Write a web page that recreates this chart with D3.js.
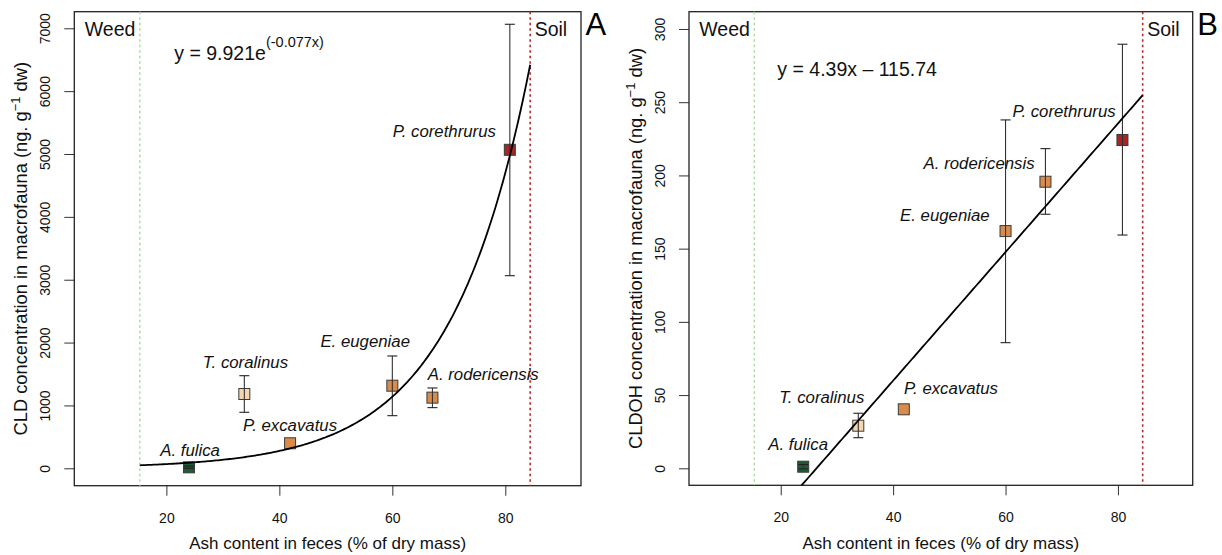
<!DOCTYPE html>
<html>
<head>
<meta charset="utf-8">
<script src="https://cdn.jsdelivr.net/npm/d3@7"></script>
<style>
  html, body { margin: 0; padding: 0; background: #fff; }
  svg { display: block; font-family: "Liberation Sans", Arial, sans-serif; }
</style>
</head>
<body>
<svg id="chart" width="1222" height="555"></svg>
<script>
// ---------------- data ----------------
const species = ["A. fulica", "T. coralinus", "P. excavatus", "E. eugeniae", "A. rodericensis", "P. corethrurus"];
const ashContent = [24.0, 33.8, 41.9, 60.0, 67.1, 80.8];
const pointColors = ["#1e5c34", "#f5d5ae", "#d98b4b", "#d98b4b", "#d98b4b", "#a42626"];

// Panel A : CLD
const cldMean = [15, 1182, 398, 1314, 1124, 5067];
const cldLow  = [0, 891, null, 837, 965, 3064];
const cldHigh = [35, 1473, null, 1787, 1278, 7064];
const cldLabelX = [24.2, 34.0, 41.9, 55.2, 76.1, 69.2];
const cldLabelY = [196, 1591, 598, 1935, 1405, 5275];
const cldTicks = [0, 1000, 2000, 3000, 4000, 5000, 6000, 7000];
const cldFitA = 16.17, cldFitB = 0.0709;   // drawn exponential fit

// Panel B : CLDOH
const cldohMean = [1.1, 29.1, 40.3, 162, 195.7, 224.2];
const cldohLow  = [-0.4, 20.9, null, 85.8, 173.5, 159.3];
const cldohHigh = [2.6, 37.6, null, 237.9, 218.3, 289.6];
const cldohLabelX = [23.1, 27.3, 50.3, 49.2, 55.3, 70.4];
const cldohLabelY = [12.5, 44.4, 50.5, 168.9, 204.4, 239.7];
const cldohTicks = [0, 50, 100, 150, 200, 250, 300];
const cldohSlope = 4.39, cldohIntercept = -115.74;

const xTicks = [20, 40, 60, 80];
const weedAsh = 15.3, soilAsh = 84.4;

// ---------------- drawing ----------------
const svg = d3.select("#chart");
const FONT = "'Liberation Sans', Arial, sans-serif";

function panel(cfg) {
  const x = d3.scaleLinear().domain(cfg.xDomain).range([cfg.left, cfg.right]);
  const y = d3.scaleLinear().domain(cfg.yDomain).range([cfg.bottom, cfg.top]);
  const g = svg.append("g");

  const clipId = "clip" + cfg.id;
  svg.append("clipPath").attr("id", clipId).append("rect")
    .attr("x", cfg.left).attr("y", cfg.top)
    .attr("width", cfg.right - cfg.left).attr("height", cfg.bottom - cfg.top);

  // axes
  const xAxis = d3.axisBottom(x).tickValues(xTicks).tickSize(10).tickSizeOuter(0).tickFormat(d3.format("d"));
  const gx = g.append("g").attr("transform", `translate(0,${cfg.bottom})`).call(xAxis);
  gx.select(".domain").remove();
  gx.selectAll("line").attr("stroke", "#333");
  gx.selectAll("text").attr("font-size", 14).attr("font-family", FONT).attr("fill", "#111")
    .attr("dy", null).attr("y", 37);

  const yAxis = d3.axisLeft(y).tickValues(cfg.yTicks).tickSize(10).tickSizeOuter(0).tickFormat(d3.format("d"));
  const gy = g.append("g").attr("transform", `translate(${cfg.left},0)`).call(yAxis);
  gy.select(".domain").remove();
  gy.selectAll("line").attr("stroke", "#333");
  gy.selectAll("text")
    .attr("font-size", 14).attr("font-family", FONT).attr("fill", "#111")
    .attr("x", null).attr("dy", null)
    .attr("text-anchor", "middle")
    .attr("transform", `translate(-24,0) rotate(-90)`)
    .attr("y", 0);

  // box
  g.append("rect").attr("x", cfg.left).attr("y", cfg.top)
    .attr("width", cfg.right - cfg.left).attr("height", cfg.bottom - cfg.top)
    .attr("fill", "none").attr("stroke", "#222").attr("stroke-width", 1.3);

  // weed / soil lines
  g.append("line").attr("x1", x(weedAsh)).attr("x2", x(weedAsh))
    .attr("y1", cfg.top).attr("y2", cfg.bottom)
    .attr("stroke", "#a6dd98").attr("stroke-width", 1.4).attr("stroke-dasharray", "2.5,3");
  g.append("line").attr("x1", x(soilAsh)).attr("x2", x(soilAsh))
    .attr("y1", cfg.top).attr("y2", cfg.bottom)
    .attr("stroke", "#b52b2b").attr("stroke-width", 1.6).attr("stroke-dasharray", "2.5,3");

  g.append("text").attr("x", x(weedAsh) - 55).attr("y", 35.7).text("Weed")
    .attr("font-size", 19.5).attr("font-family", FONT).attr("fill", "#111");
  g.append("text").attr("x", x(soilAsh) + 4.5).attr("y", 35.7).text("Soil")
    .attr("font-size", 19.5).attr("font-family", FONT).attr("fill", "#111");

  // panel letter
  g.append("text").attr("x", cfg.right + 4.5).attr("y", 35).text(cfg.letter)
    .attr("font-size", 31).attr("font-family", FONT).attr("fill", "#000");

  // axis titles
  g.append("text").attr("x", (cfg.left + cfg.right) / 2).attr("y", 549)
    .attr("text-anchor", "middle").attr("font-size", 17).attr("font-family", FONT).attr("fill", "#111")
    .text("Ash content in feces (% of dry mass)");

  const yt = g.append("text")
    .attr("transform", `translate(${cfg.left - 47},${(cfg.top + cfg.bottom) / 2}) rotate(-90)`)
    .attr("text-anchor", "middle").attr("font-size", 18.3).attr("font-family", FONT).attr("fill", "#111");
  yt.append("tspan").text(cfg.yTitle + " (ng. g");
  yt.append("tspan").attr("font-size", 13).attr("dy", -7.5).text("\u22121");
  yt.append("tspan").attr("dy", 7.5).text(" dw)");

  // fit
  const fitG = g.append("g").attr("clip-path", `url(#${clipId})`);
  const xs = d3.range(weedAsh, soilAsh + 0.001, (soilAsh - weedAsh) / 200);
  fitG.append("path")
    .datum(xs.map(v => [v, cfg.fit(v)]))
    .attr("d", d3.line().x(d => x(d[0])).y(d => y(d[1])))
    .attr("fill", "none").attr("stroke", "#000").attr("stroke-width", 1.8);

  // points
  const idx = d3.range(species.length);
  const sz = 11;
  g.selectAll(null).data(idx).enter().append("rect")
    .attr("x", i => x(ashContent[i]) - sz / 2).attr("y", i => y(cfg.mean[i]) - sz / 2)
    .attr("width", sz).attr("height", sz)
    .attr("fill", i => pointColors[i]).attr("stroke", "#3a3a3a").attr("stroke-width", 1);

  // error bars
  const eb = idx.filter(i => cfg.low[i] !== null);
  eb.forEach(i => {
    const cx = x(ashContent[i]);
    g.append("line").attr("x1", cx).attr("x2", cx).attr("y1", y(cfg.low[i])).attr("y2", y(cfg.high[i]))
      .attr("stroke", "#333").attr("stroke-width", 1.1);
    [cfg.low[i], cfg.high[i]].forEach(v => {
      g.append("line").attr("x1", cx - 5).attr("x2", cx + 5).attr("y1", y(v)).attr("y2", y(v))
        .attr("stroke", "#222").attr("stroke-width", 1.1);
    });
  });

  // fit on top of points
  fitG.raise();

  // labels
  g.selectAll(null).data(idx).enter().append("text")
    .attr("x", i => x(cfg.labelX[i])).attr("y", i => y(cfg.labelY[i]))
    .attr("text-anchor", "middle").attr("font-style", "italic")
    .attr("font-size", 16.8).attr("font-family", FONT).attr("fill", "#111")
    .text(i => species[i]);

  return { x, y, g };
}

// Panel A
const pA = panel({
  id: "A", letter: "A",
  left: 74.3, right: 581, top: 11.7, bottom: 485.7,
  xDomain: [3.7, 93.4], yDomain: [-277, 7264],
  yTicks: cldTicks, yTitle: "CLD concentration in macrofauna",
  mean: cldMean, low: cldLow, high: cldHigh,
  labelX: cldLabelX, labelY: cldLabelY,
  fit: v => cldFitA * Math.exp(cldFitB * v)
});
{
  const t = pA.g.append("text").attr("x", pA.x(21.4)).attr("y", 60)
    .attr("font-size", 19.5).attr("font-family", FONT).attr("fill", "#111");
  t.append("tspan").text("y = 9.921e");
  t.append("tspan").attr("font-size", 14.5).attr("dy", -13).text("(-0.077x)");
}

// Panel B
const pB = panel({
  id: "B", letter: "B",
  left: 689, right: 1192.7, top: 11.7, bottom: 485.3,
  xDomain: [3.68, 93.3], yDomain: [-11.6, 311.8],
  yTicks: cldohTicks, yTitle: "CLDOH concentration in macrofauna",
  mean: cldohMean, low: cldohLow, high: cldohHigh,
  labelX: cldohLabelX, labelY: cldohLabelY,
  fit: v => cldohSlope * v + cldohIntercept
});
pB.g.append("text").attr("x", pB.x(19.4)).attr("y", 75.5)
  .attr("font-size", 19.5).attr("font-family", FONT).attr("fill", "#111")
  .text("y = 4.39x \u2013 115.74");
</script>
</body>
</html>
